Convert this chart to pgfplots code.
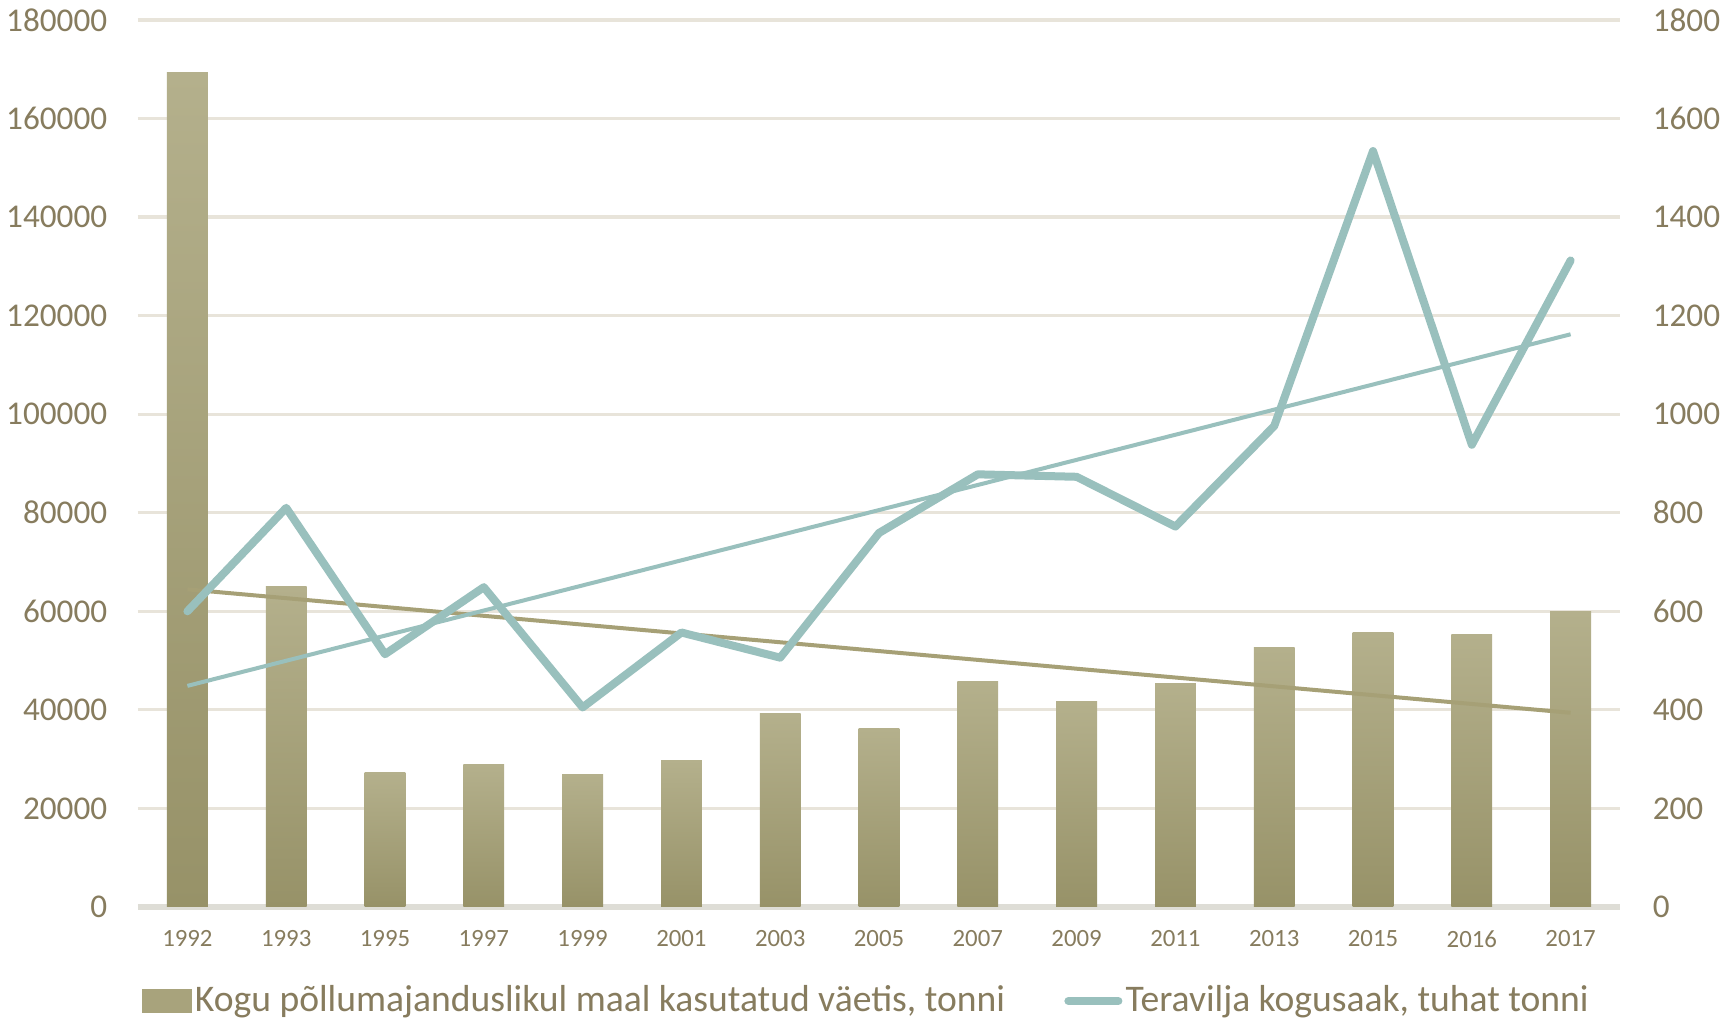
\documentclass[border=0pt]{standalone}
\usepackage{pgfplots}
\usepackage{pgfplotstable}
\pgfplotsset{compat=1.18}
\usepackage{fontspec}
\setmainfont{Carlito}

\definecolor{textc}{RGB}{135,124,94}
\definecolor{bartop}{RGB}{180,176,140}
\definecolor{barbot}{RGB}{151,146,104}
\definecolor{barleg}{RGB}{168,163,124}
\definecolor{trendf}{RGB}{166,160,118}
\definecolor{linec}{RGB}{153,192,189}
\definecolor{gridc}{RGB}{232,228,218}
\definecolor{basec}{RGB}{222,221,214}

\pgfdeclareradialshading{vig}{\pgfpoint{0bp}{0bp}}{color(0bp)=(white); color(42bp)=(white); color(58bp)=(black!7); color(72bp)=(black!14)}

% i = category position, f = vaetis (tonni), g = teravili (tuhat tonni)
\pgfplotstableread{
i year f g
0 1992 169300 600
1 1993 65000 810
2 1995 27300 513
3 1997 28900 649
4 1999 26900 405
5 2001 29800 557
6 2003 39200 506
7 2005 36300 759
8 2007 45700 878
9 2009 41600 873
10 2011 45400 772
11 2013 52600 976
12 2015 55700 1534
13 2016 55300 938
14 2017 60000 1312
}\data

\begin{document}
\begin{tikzpicture}
\shade[shading=vig] (-34.5pt,-27.5pt) rectangle (398pt,226.75pt);

\pgfplotsset{
  base/.style={
    width=370.5pt, height=221.75pt, scale only axis,
    xmin=-0.5, xmax=14.5, ymin=0,
    axis line style={draw=none},
    major tick length=0pt,
    tick style={draw=none},
    /pgf/number format/assume math mode=true,
    yticklabel style={/pgf/number format/fixed, /pgf/number format/1000 sep={},
      font=\fontsize{8.3}{10}\selectfont, text=textc, inner sep=0pt},
    scaled y ticks=false,
  },
}

\begin{axis}[base,
    ymax=180000, ytick distance=20000,
    yticklabel style={xshift=-7.5pt},
    ymajorgrids, grid style={gridc, line width=0.8pt},
    extra y ticks={0}, extra y tick labels={},
    extra y tick style={grid style={basec, line width=1.6pt}},
    xtick=data,
    xticklabels={1992,1993,1995,1997,1999,2001,2003,2005,2007,2009,2011,2013,2015,2016,2017},
    xticklabel style={font=\fontsize{6.2}{8}\selectfont, text=textc, yshift=-2.3pt},
  ]
  % one plot per bar, so that each bar gets its own light-to-dark shading
  \pgfplotsinvokeforeach{0,...,14}{
    \addplot[ybar, bar shift=0pt, bar width=10.2pt, draw=none,
      top color=bartop, bottom color=barbot, forget plot]
      table[x=i, y=f, restrict x to domain=#1:#1] {\data};
  }
  \addplot[trendf, line width=1pt, no marks]
    table[x=i, y={create col/linear regression={y=f}}] {\data};
\end{axis}

\begin{axis}[base,
    ymax=1800, ytick distance=200,
    axis y line*=right, axis x line=none,
    yticklabel style={anchor=west, xshift=8pt},
    xtick=\empty,
    legend columns=2,
    legend style={at={(0.5,0)}, anchor=center, yshift=-23.5pt, xshift=-3pt,
      draw=none, fill=none, font=\fontsize{9.4}{11}\selectfont, text=textc,
      /tikz/every even column/.append style={column sep=14pt},
      nodes={inner sep=0.8pt}},
  ]
  \addlegendimage{legend image code/.code={\fill[barleg] (0pt,-2.9pt) rectangle (12pt,2.9pt);}}
  \addlegendentry{Kogu põllumajanduslikul maal kasutatud väetis, tonni}
  \addplot[linec, line width=2pt, line join=round, line cap=round, no marks,
    legend image code/.code={\draw[linec, line width=2pt, line cap=round] (0.5pt,0pt) -- (13pt,0pt);}]
    table[x=i, y=g] {\data};
  \addlegendentry{Teravilja kogusaak, tuhat tonni}
  \addplot[linec, line width=1pt, no marks, forget plot]
    table[x=i, y={create col/linear regression={y=g}}] {\data};
\end{axis}
\end{tikzpicture}
\end{document}
